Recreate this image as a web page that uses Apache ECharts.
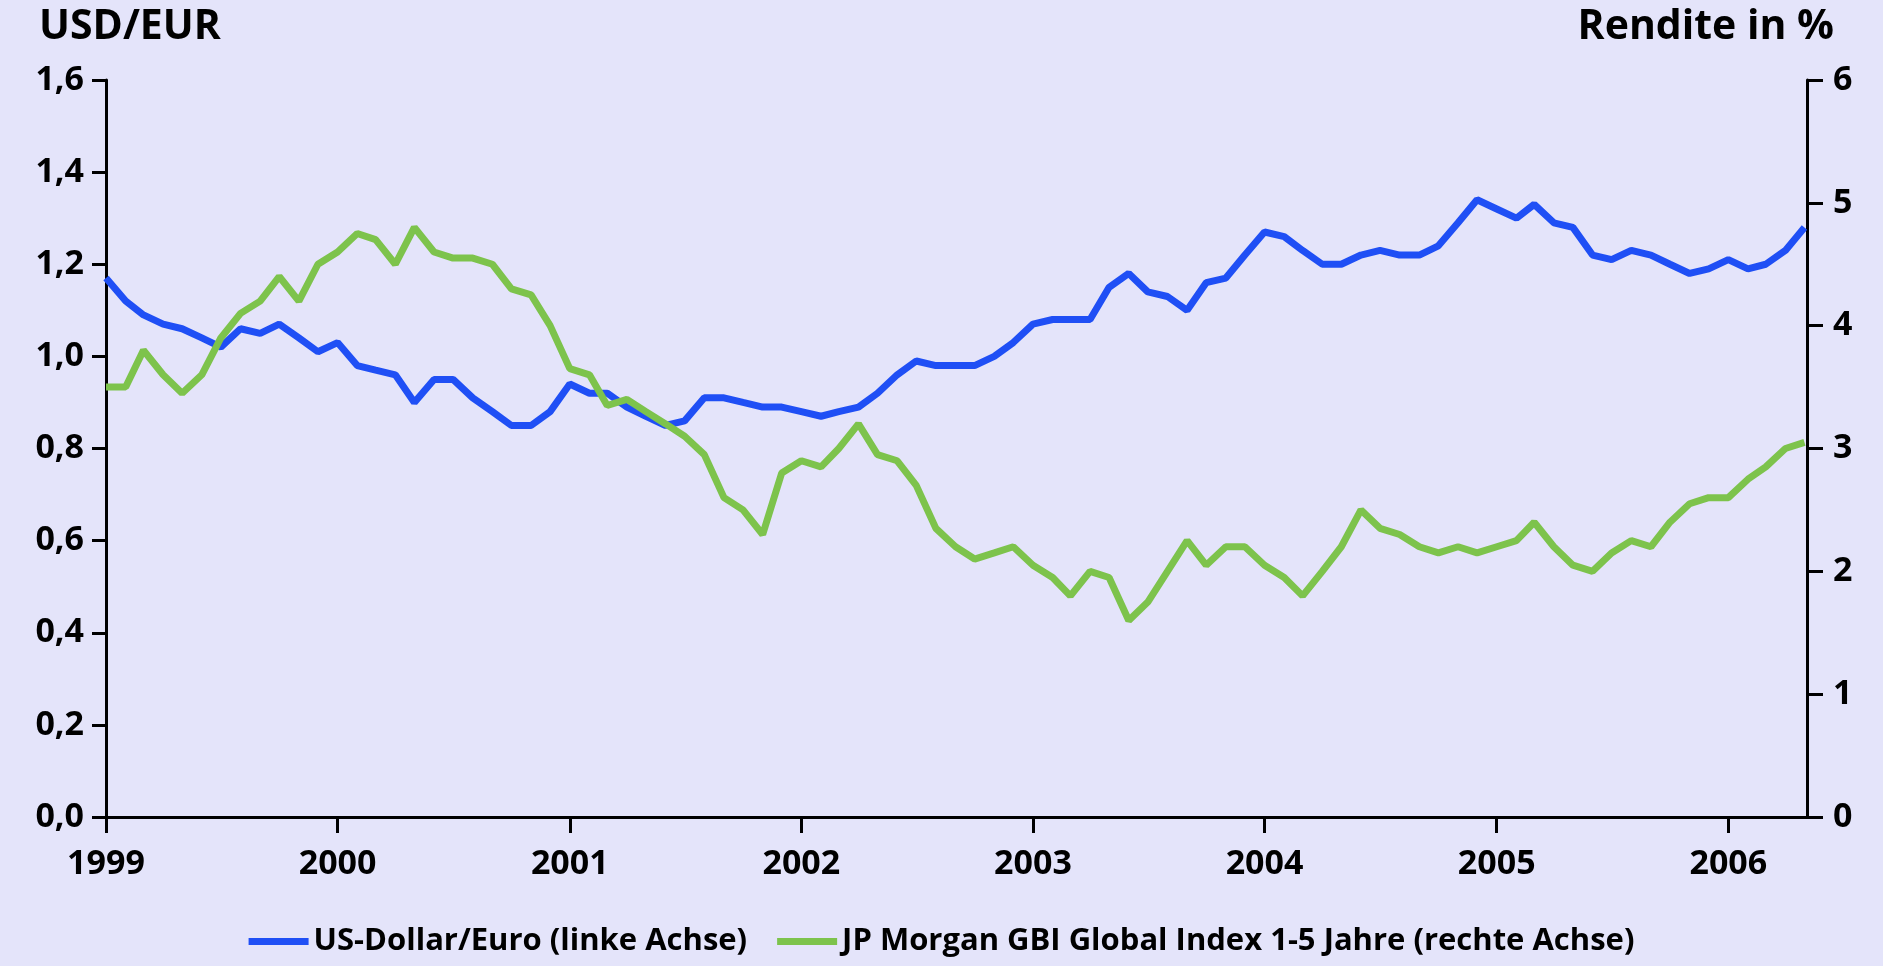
<!DOCTYPE html>
<html><head><meta charset="utf-8">
<script src="https://cdn.jsdelivr.net/npm/echarts@6/dist/echarts.min.js"></script>
<style>html,body{margin:0;padding:0;background:#e4e4fa}#c{width:1883px;height:966px}</style>
</head><body><div id="c"></div>
<script>
// monthly points, Jan 1999 .. May 2006
var startYear = 1999;
var usdEur = [
  1.17,1.12,1.09,1.07,1.06,1.04,1.02,1.06,1.05,1.07,1.04,1.01,
  1.03,0.98,0.97,0.96,0.90,0.95,0.95,0.91,0.88,0.85,0.85,0.88,
  0.94,0.92,0.92,0.89,0.87,0.85,0.86,0.91,0.91,0.90,0.89,0.89,
  0.88,0.87,0.88,0.89,0.92,0.96,0.99,0.98,0.98,0.98,1.00,1.03,
  1.07,1.08,1.08,1.08,1.15,1.18,1.14,1.13,1.10,1.16,1.17,1.22,
  1.27,1.26,1.23,1.20,1.20,1.22,1.23,1.22,1.22,1.24,1.29,1.34,
  1.32,1.30,1.33,1.29,1.28,1.22,1.21,1.23,1.22,1.20,1.18,1.19,
  1.21,1.19,1.20,1.23,1.28
];
var gbiYield = [
  3.5,3.5,3.8,3.6,3.45,3.6,3.9,4.1,4.2,4.4,4.2,4.5,
  4.6,4.75,4.7,4.5,4.8,4.6,4.55,4.55,4.5,4.3,4.25,4.0,
  3.65,3.6,3.35,3.4,3.3,3.2,3.1,2.95,2.6,2.5,2.3,2.8,
  2.9,2.85,3.0,3.2,2.95,2.9,2.7,2.35,2.2,2.1,2.15,2.2,
  2.05,1.95,1.8,2.0,1.95,1.6,1.75,2.0,2.25,2.05,2.2,2.2,
  2.05,1.95,1.8,2.0,2.2,2.5,2.35,2.3,2.2,2.15,2.2,2.15,
  2.2,2.25,2.4,2.2,2.05,2.0,2.15,2.25,2.2,2.4,2.55,2.6,
  2.6,2.75,2.85,3.0,3.05
];
var seriesNames = ['US-Dollar/Euro (linke Achse)', 'JP Morgan GBI Global Index 1-5 Jahre (rechte Achse)'];

function toPoints(vals) {
  return vals.map(function (v, i) {
    var y = startYear + Math.floor(i / 12), m = i % 12;
    return [Date.UTC(y, m, 1), v];
  });
}
var txt = {fontFamily: 'Open Sans', fontWeight: 'bold', color: '#000'};
var chart = echarts.init(document.getElementById('c'));
chart.setOption({
  backgroundColor: '#e4e4fa',
  animation: false,
  title: [
    {text: 'USD/EUR', left: 34, top: 2, textStyle: Object.assign({fontSize: 41}, txt)},
    {text: 'Rendite in %', right: 44, top: 2, textStyle: Object.assign({fontSize: 41}, txt)}
  ],
  legend: {
    bottom: 4, left: 'center', itemWidth: 60, itemHeight: 7, itemGap: 30,
    icon: 'rect',
    textStyle: Object.assign({fontSize: 31}, txt),
    data: seriesNames
  },
  grid: {left: 106, right: 76, top: 80, bottom: 149, containLabel: false},
  xAxis: {
    type: 'time',
    min: Date.UTC(1999, 0, 1), max: Date.UTC(2006, 4, 5),
    interval: 365.25 * 24 * 3600 * 1000,
    splitLine: {show: false},
    axisLine: {lineStyle: {color: '#000', width: 3}},
    axisTick: {show: true, length: 16, lineStyle: {color: '#000', width: 3}},
    axisLabel: Object.assign({fontSize: 34, margin: 30, formatter: '{yyyy}', showMinLabel: true}, txt)
  },
  yAxis: [
    {type: 'value', min: 0, max: 1.6, interval: 0.2, splitLine: {show: false},
     axisLine: {show: true, lineStyle: {color: '#000', width: 3}},
     axisTick: {show: true, length: 14, lineStyle: {color: '#000', width: 3}},
     axisLabel: Object.assign({fontSize: 34, margin: 22, formatter: function (v) { return v.toFixed(1).replace('.', ','); }}, txt)},
    {type: 'value', min: 0, max: 6, interval: 1, splitLine: {show: false},
     axisLine: {show: true, lineStyle: {color: '#000', width: 3}},
     axisTick: {show: true, length: 16, lineStyle: {color: '#000', width: 3}},
     axisLabel: Object.assign({fontSize: 34, margin: 26}, txt)}
  ],
  series: [
    {name: seriesNames[0], type: 'line', yAxisIndex: 0, data: toPoints(usdEur), showSymbol: false,
     itemStyle: {color: '#1f4ff5'}, lineStyle: {width: 7, color: '#1f4ff5'}},
    {name: seriesNames[1], type: 'line', yAxisIndex: 1, data: toPoints(gbiYield), showSymbol: false,
     itemStyle: {color: '#7dc34c'}, lineStyle: {width: 7, color: '#7dc34c'}}
  ]
});
</script></body></html>
